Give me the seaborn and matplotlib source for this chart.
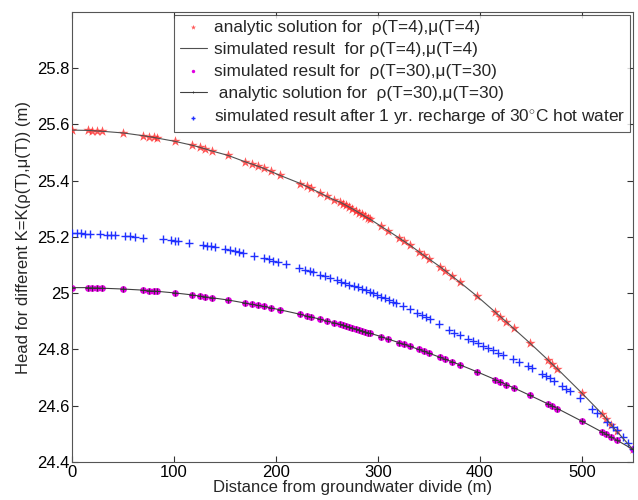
import pandas as pd
import matplotlib
matplotlib.use("Agg")
import matplotlib.pyplot as plt
import seaborn as sns

# distance along the aquifer (m) and heads
x_t4 = [0, 16, 20, 24, 29, 50, 70, 75, 80, 83, 101, 118, 125, 130, 137, 153, 170, 176, 182, 188,
        195, 204, 224, 230, 234, 243, 250, 257, 263, 266, 269, 272, 275, 278, 281, 284, 287, 290,
        292, 303, 310, 321, 326, 331, 340, 345, 350, 361, 366, 373, 380, 397, 415, 420, 426, 433,
        449, 467, 471, 476, 500, 520, 524, 529, 534, 550]
head_t4 = [25.580, 25.579, 25.578, 25.577, 25.576, 25.570, 25.560, 25.557, 25.554, 25.552, 25.540,
           25.526, 25.519, 25.514, 25.506, 25.490, 25.467, 25.460, 25.452, 25.444, 25.433, 25.419,
           25.390, 25.380, 25.373, 25.357, 25.344, 25.332, 25.324, 25.318, 25.312, 25.306, 25.300,
           25.294, 25.287, 25.281, 25.274, 25.268, 25.264, 25.238, 25.222, 25.196, 25.184, 25.172,
           25.148, 25.135, 25.122, 25.094, 25.080, 25.060, 25.040, 24.990, 24.933, 24.917, 24.898,
           24.875, 24.823, 24.762, 24.748, 24.731, 24.645, 24.570, 24.553, 24.531, 24.510, 24.445]

x_t30 = x_t4
head_t30 = [25.020, 25.020, 25.019, 25.019, 25.018, 25.015, 25.011, 25.009, 25.008, 25.007, 25.001,
            24.994, 24.990, 24.988, 24.984, 24.976, 24.965, 24.961, 24.957, 24.953, 24.948, 24.941,
            24.925, 24.919, 24.916, 24.908, 24.901, 24.895, 24.889, 24.886, 24.883, 24.879, 24.876,
            24.873, 24.870, 24.867, 24.863, 24.860, 24.858, 24.846, 24.837, 24.824, 24.818, 24.812,
            24.800, 24.794, 24.787, 24.772, 24.765, 24.756, 24.746, 24.721, 24.693, 24.685, 24.675,
            24.664, 24.637, 24.606, 24.599, 24.590, 24.545, 24.506, 24.498, 24.488, 24.478, 24.445]

x_hot = [0, 5, 9, 13, 18, 27, 34, 38, 42, 52, 57, 62, 70, 89, 97, 101, 104, 115, 128, 132, 136, 140,
         150, 155, 160, 164, 168, 178, 188, 193, 197, 202, 210, 223, 228, 233, 236, 243, 248, 253,
         260, 264, 268, 272, 276, 280, 284, 288, 292, 295, 299, 303, 307, 311, 315, 318, 325, 331,
         338, 343, 347, 351, 360, 370, 375, 380, 388, 393, 398, 403, 408, 413, 418, 423, 432, 438,
         447, 451, 461, 465, 469, 473, 480, 484, 488, 498, 510, 515, 525, 530, 534, 540, 545, 550]
head_hot = [25.214, 25.213, 25.213, 25.212, 25.211, 25.210, 25.208, 25.207, 25.206, 25.203, 25.202,
            25.200, 25.198, 25.192, 25.189, 25.187, 25.186, 25.180, 25.172, 25.169, 25.167, 25.164,
            25.157, 25.153, 25.149, 25.145, 25.142, 25.134, 25.125, 25.120, 25.116, 25.111, 25.103,
            25.090, 25.084, 25.078, 25.075, 25.066, 25.060, 25.054, 25.046, 25.041, 25.036, 25.031,
            25.026, 25.021, 25.016, 25.010, 25.005, 25.000, 24.994, 24.988, 24.982, 24.976, 24.969,
            24.965, 24.953, 24.943, 24.931, 24.922, 24.914, 24.908, 24.889, 24.869, 24.860, 24.850,
            24.838, 24.830, 24.822, 24.814, 24.806, 24.797, 24.789, 24.780, 24.766, 24.756, 24.741,
            24.735, 24.714, 24.706, 24.697, 24.688, 24.671, 24.661, 24.651, 24.626, 24.590, 24.574,
            24.542, 24.526, 24.512, 24.489, 24.467, 24.445]

y_ticks = [24.4, 24.6, 24.8, 25.0, 25.2, 25.4, 25.6, 25.8]
y_labels = ["24.4", "24.6", "24.8", "25", "25.2", "25.4", "25.6", "25.8"]
x_ticks = [0, 100, 200, 300, 400, 500]

sns.set_style("ticks")
plt.rcParams['font.family'] = ['Liberation Sans', 'DejaVu Sans']
plt.rcParams['mathtext.fontset'] = 'custom'
plt.rcParams['mathtext.rm'] = 'Liberation Sans'

df4 = pd.DataFrame({'x': x_t4, 'h': head_t4})
df30 = pd.DataFrame({'x': x_t30, 'h': head_t30})
dfh = pd.DataFrame({'x': x_hot, 'h': head_hot})

fig = plt.figure(figsize=(6.38, 5.0), dpi=100)
ax = fig.add_axes([0.113, 0.076, 0.879, 0.9])

sns.scatterplot(data=df4, x='x', y='h', ax=ax, marker='*', color='#ff2020', s=60,
                linewidth=0, alpha=0.75, label='analytic solution for  ρ(T=4),μ(T=4)', zorder=3)
sns.lineplot(data=df4, x='x', y='h', ax=ax, color='#505050', lw=0.8, sort=False,
             estimator=None, label='simulated result  for ρ(T=4),μ(T=4)', zorder=4)
sns.scatterplot(data=df30, x='x', y='h', ax=ax, marker='o', color='#e000e0', s=24,
                linewidth=0, label='simulated result for  ρ(T=30),μ(T=30)', zorder=3)
sns.lineplot(data=df30, x='x', y='h', ax=ax, color='#404040', lw=0.8, sort=False,
             estimator=None, marker='+', markersize=4, mec='#303030', mew=0.6,
             label=' analytic solution for  ρ(T=30),μ(T=30)', zorder=4)
sns.scatterplot(data=dfh, x='x', y='h', ax=ax, marker='+', color='#2030ff', s=32,
                linewidth=1.0, label='simulated result after 1 yr. recharge of 30$^{\\circ}$C hot water',
                zorder=3)

ax.set_xlim(0, 550)
ax.set_ylim(24.4, 26.0)
ax.set_xticks(x_ticks)
ax.set_yticks(y_ticks)
ax.set_yticklabels(y_labels)
ax.tick_params(direction='in', length=4, width=0.8, top=True, right=True,
               labelsize=12, pad=2, colors='#333333', labelcolor='black')
for sp in ax.spines.values():
    sp.set_visible(True)
    sp.set_color('#555555')
    sp.set_linewidth(0.8)

ax.set_xlabel('Distance from groundwater divide (m)', fontsize=12, labelpad=0)
ax.set_ylabel('Head for different K=K(ρ(T),μ(T)) (m)', fontsize=12, labelpad=4)

leg = ax.legend(loc='upper right', fontsize=12.4, frameon=True, fancybox=False,
                borderaxespad=0.15, handlelength=1.6, handletextpad=0.4,
                labelspacing=0.4, borderpad=0.3, markerscale=0.5)
leg.get_frame().set_edgecolor('#333333')
leg.get_frame().set_linewidth(0.8)

plt.savefig('out.png', dpi=100)
